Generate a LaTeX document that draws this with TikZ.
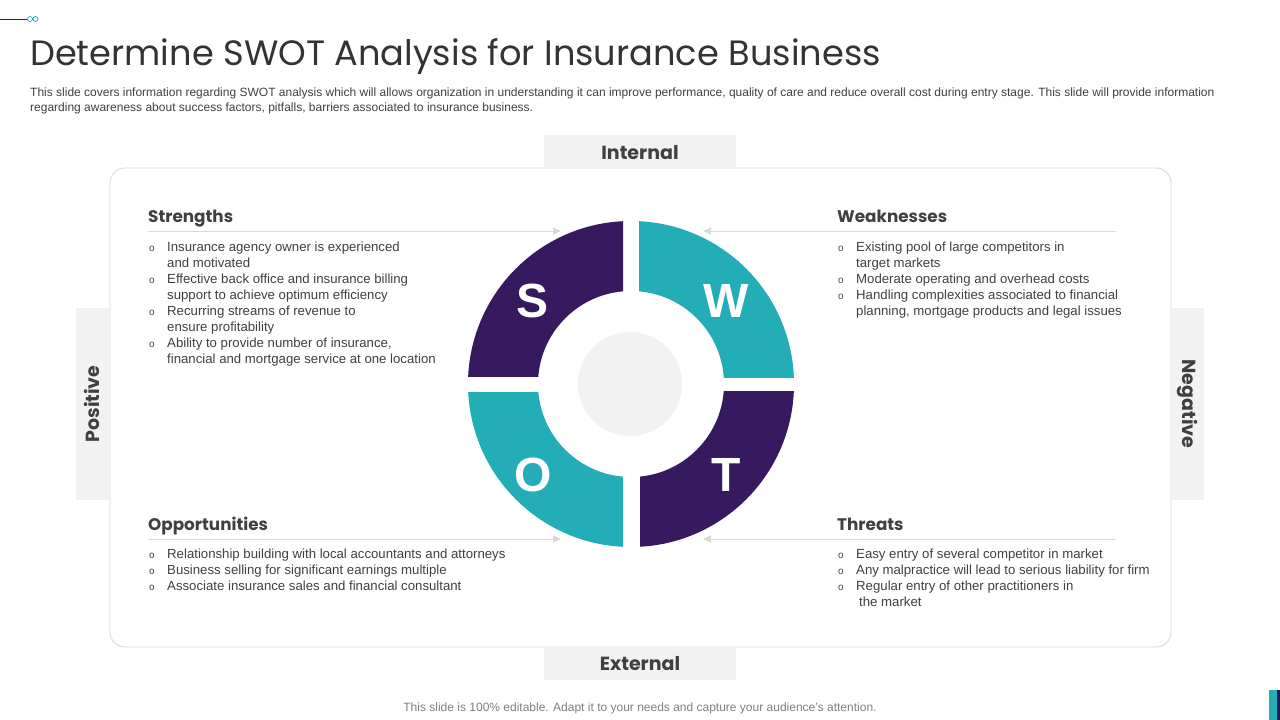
\documentclass[tikz,border=0pt]{standalone}
\usepackage{fontspec}
\setmainfont{Liberation Sans}
\newfontfamily\headfont{Poppins}
\usetikzlibrary{arrows.meta}
\definecolor{swotpurple}{HTML}{36195E}
\definecolor{swotteal}{HTML}{23ADB7}
\definecolor{txtgray}{HTML}{404040}
\definecolor{tabgray}{HTML}{F2F2F2}
\definecolor{linegray}{HTML}{D9D9D9}
\definecolor{navybar}{HTML}{1F1A5E}
\newcommand{\bul}{{\fontsize{10}{16}\selectfont o}}
\begin{document}
\begin{tikzpicture}[x=1pt,y=-1pt,
  tabbox/.style={fill=tabgray,draw=none},
  tablabel/.style={font=\headfont\bfseries\fontsize{19}{22}\selectfont,text=txtgray,inner sep=0pt},
  heading/.style={font=\headfont\bfseries\fontsize{16.8}{20}\selectfont,text=txtgray,anchor=base west,inner sep=0pt},
  listtext/.style={font=\fontsize{13.2}{16}\selectfont,text=txtgray,anchor=base west,inner sep=0pt,align=left},
  sepline/.style={draw=linegray,line width=1pt,-{Triangle[width=7pt,length=8pt]}},
  letter/.style={font=\bfseries\fontsize{48}{50}\selectfont,text=white,inner sep=0pt}]
\useasboundingbox (0,0) rectangle (1280,720);
\fill[white] (0,0) rectangle (1280,720);
% top-left decoration
\draw[swotpurple,line width=0.8pt] (0,19) -- (27.5,19);
\draw[swotteal,line width=0.7pt] (30,19) circle[radius=2.5] (35.5,19) circle[radius=2.5];
% bottom-right bars
\fill[swotteal] (1269,690) rectangle (1277,720);
\fill[navybar] (1277,690) rectangle (1280,720);
% title
\node[anchor=base west,inner sep=0pt,text=txtgray!80!black,font=\headfont\fontsize{35.2}{40}\selectfont] (title) at (30,65) {Determine SWOT Analysis for Insurance Business};
\node[anchor=base west,inner sep=0pt,text=txtgray,font=\fontsize{12}{14}\selectfont] (desc1) at (30,96) {This slide covers information regarding SWOT analysis which will allows organization in understanding it can improve performance, quality of care and reduce overall cost during entry stage. This slide will provide information};
\node[anchor=base west,inner sep=0pt,text=txtgray,font=\fontsize{12}{14}\selectfont] (desc2) at (30,111) {regarding awareness about success factors, pitfalls, barriers associated to insurance business.};
% main box
\draw[linegray,line width=0.9pt,rounded corners=15pt] (110,168) rectangle (1171,647);
% tabs
\fill[tabbox] (544,135) rectangle (736,168);
\node[tablabel] (internal) at (640,153) {Internal};
\fill[tabbox] (544,647) rectangle (736,680);
\node[tablabel] (external) at (640,664) {External};
\fill[tabbox] (76,308) rectangle (109,500);
\node[tablabel,rotate=90] (positive) at (92,404) {Positive};
\fill[tabbox] (1172,308) rectangle (1204,500);
\node[tablabel,rotate=-90] (negative) at (1187,404) {Negative};
% ring
\begin{scope}
\clip (400,150) rectangle (623,376);
\fill[swotpurple,even odd rule] (631,384) circle[radius=163] (631,384) circle[radius=93];
\end{scope}
\begin{scope}
\clip (639,150) rectangle (900,377);
\fill[swotteal,even odd rule] (631,384) circle[radius=163] (631,384) circle[radius=93];
\end{scope}
\begin{scope}
\clip (400,392) rectangle (623,620);
\fill[swotteal,even odd rule] (631,384) circle[radius=163] (631,384) circle[radius=93];
\end{scope}
\begin{scope}
\clip (640,391) rectangle (900,620);
\fill[swotpurple,even odd rule] (631,384) circle[radius=163] (631,384) circle[radius=93];
\end{scope}
\fill[tabgray] (630,384) circle[radius=52];
\node[letter] (S) at (533,301) {S};
\node[letter] (W) at (726,301) {W};
\node[letter] (O) at (533,475) {O};
\node[letter] (T) at (726,475) {T};
% headings and lines
\node[heading] (hs) at (148,222) {Strengths};
\node[heading] (hw) at (837,222) {Weaknesses};
\node[heading] (ho) at (148,530) {Opportunities};
\node[heading] (ht) at (837,530) {Threats};
\coordinate (s1) at (148,231); \coordinate (s2) at (561,231);
\coordinate (w1) at (1116,231); \coordinate (w2) at (703,231);
\coordinate (o1) at (148,539); \coordinate (o2) at (561,539);
\coordinate (t1) at (1116,539); \coordinate (t2) at (703,539);
\draw[sepline] (s1) -- (s2);
\draw[sepline] (w1) -- (w2);
\draw[sepline] (o1) -- (o2);
\draw[sepline] (t1) -- (t2);
% lists
\node[listtext] (ls) at (149,251.5) {\begin{tabular}[t]{@{}p{18pt}@{}l@{}}
\bul & Insurance agency owner is experienced\\
 & and motivated\\
\bul & Effective back office and insurance billing\\
 & support to achieve optimum efficiency\\
\bul & Recurring streams of revenue to\\
 & ensure profitability\\
\bul & Ability to provide number of insurance,\\
 & financial and mortgage service at one location
\end{tabular}};
\node[listtext] (lw) at (838,251.5) {\begin{tabular}[t]{@{}p{18pt}@{}l@{}}
\bul & Existing pool of large competitors in\\
 & target markets\\
\bul & Moderate operating and overhead costs\\
\bul & Handling complexities associated to financial\\
 & planning, mortgage products and legal issues
\end{tabular}};
\node[listtext] (lo) at (149,558.5) {\begin{tabular}[t]{@{}p{18pt}@{}l@{}}
\bul & Relationship building with local accountants and attorneys\\
\bul & Business selling for significant earnings multiple\\
\bul & Associate insurance sales and financial consultant
\end{tabular}};
\node[listtext] (lt) at (838,558.5) {\begin{tabular}[t]{@{}p{18pt}@{}l@{}}
\bul & Easy entry of several competitor in market\\
\bul & Any malpractice will lead to serious liability for firm\\
\bul & Regular entry of other practitioners in\\
 & \hspace{3pt}the market
\end{tabular}};
% footer
\node[anchor=base,inner sep=0pt,text=gray,font=\fontsize{12}{14}\selectfont] (footer) at (640,711) {This slide is 100\% editable. Adapt it to your needs and capture your audience's attention.};
\end{tikzpicture}
\end{document}
